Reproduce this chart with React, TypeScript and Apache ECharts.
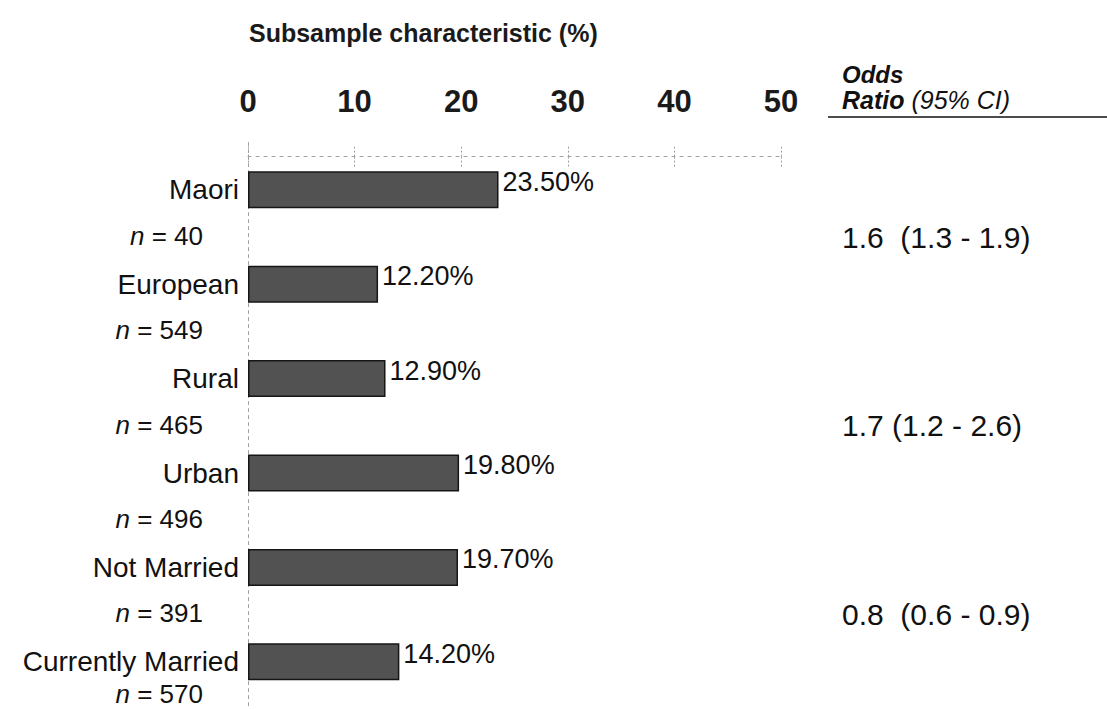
import React, { useEffect, useRef } from "react";
import * as echarts from "echarts";

const categories = ["Maori", "European", "Rural", "Urban", "Not Married", "Currently Married"];
const percentValues = [23.5, 12.2, 12.9, 19.8, 19.7, 14.2];
const sampleSizes = [40, 549, 465, 496, 391, 570];
const oddsRatios = ["1.6  (1.3 - 1.9)", "1.7 (1.2 - 2.6)", "0.8  (0.6 - 0.9)"];
const xTicks = [0, 10, 20, 30, 40, 50];

const FONT = "Arial, 'Liberation Sans', Helvetica, sans-serif";

export default function App() {
  const ref = useRef<HTMLDivElement>(null);

  useEffect(() => {
    if (!ref.current) return;
    const chart = echarts.init(ref.current, null, { renderer: "svg" });
    const option: any = {
      animation: false,
      backgroundColor: "#ffffff",
      title: {
        text: "Subsample characteristic (%)",
        left: 244,
        top: 15,
        textStyle: { fontFamily: FONT, fontSize: 25, fontWeight: "bold", color: "#1a1a1a" },
      },
      grid: { left: 248, right: 326, top: 142.6, height: 568.8 },
      xAxis: [
        {
          type: "value",
          position: "top",
          min: xTicks[0],
          max: xTicks[xTicks.length - 1],
          interval: 10,
          offset: -14,
          axisLine: { show: true, lineStyle: { color: "#a0a0a0", type: [3, 5], width: 1 } },
          axisTick: { show: true, length: 11, lineStyle: { color: "#a0a0a0", type: [2, 2] } },
          axisLabel: {
            margin: 40,
            fontFamily: "'Liberation Sans Narrow', 'Arial Narrow', Arial, sans-serif",
            fontSize: 31,
            fontWeight: "bold",
            color: "#1a1a1a",
          },
          splitLine: { show: false },
        },
        {
          type: "value",
          position: "top",
          min: xTicks[0],
          max: xTicks[xTicks.length - 1],
          interval: 10,
          offset: -14,
          axisLine: { show: false },
          axisTick: { show: true, inside: true, length: 12, lineStyle: { color: "#a0a0a0", type: [2, 2] } },
          axisLabel: { show: false },
          splitLine: { show: false },
        },
      ],
      yAxis: {
        type: "category",
        data: categories,
        inverse: true,
        axisLine: { show: true, lineStyle: { color: "#a0a0a0", type: [3, 4], width: 1 } },
        axisTick: { show: false },
        axisLabel: { margin: 9, fontFamily: FONT, fontSize: 28, color: "#111111" },
      },
      series: [
        {
          type: "bar",
          data: percentValues,
          barWidth: 37,
          itemStyle: { color: "#525252", borderColor: "#161616", borderWidth: 1.5 },
          label: {
            show: true,
            position: "right",
            distance: 4,
            offset: [0, -8],
            formatter: (p: any) => p.value.toFixed(2) + "%",
            fontFamily: FONT,
            fontSize: 27,
            color: "#111111",
          },
        },
      ],
    };
    chart.setOption(option);

    const yPix = (i: number) => chart.convertToPixel({ yAxisIndex: 0 }, categories[i]) as number;
    const graphics: any[] = [];
    sampleSizes.forEach((n, i) => {
      const last = i === sampleSizes.length - 1;
      const y = yPix(i) + (last ? 32 : 46);
      graphics.push({
        type: "text",
        x: 203,
        y,
        style: {
          text: "{i|n} = " + n,
          align: "right",
          verticalAlign: "middle",
          rich: { i: { fontStyle: "italic", fontFamily: FONT, fontSize: 26, fill: "#111" } },
          fontFamily: FONT,
          fontSize: 26,
          fill: "#111",
        },
      });
    });
    oddsRatios.forEach((t, k) => {
      const y = (yPix(2 * k) + yPix(2 * k + 1)) / 2;
      graphics.push({
        type: "text",
        x: 842,
        y,
        style: { text: t, fontFamily: FONT, fontSize: 30, fill: "#111", verticalAlign: "middle" },
      });
    });
    graphics.push(
      {
        type: "text",
        x: 842,
        y: 74,
        style: {
          text: "Odds",
          fontFamily: FONT,
          fontSize: 24,
          fontWeight: "bold",
          fontStyle: "italic",
          fill: "#111",
          verticalAlign: "middle",
        },
      },
      {
        type: "text",
        x: 842,
        y: 100,
        style: {
          text: "{b|Ratio} (95% CI)",
          fontFamily: FONT,
          fontSize: 25,
          fontStyle: "italic",
          fill: "#111",
          verticalAlign: "middle",
          rich: { b: { fontFamily: FONT, fontSize: 25, fontWeight: "bold", fontStyle: "italic", fill: "#111" } },
        },
      },
      {
        type: "line",
        shape: { x1: 828, y1: 117, x2: 1107, y2: 117 },
        style: { stroke: "#111", lineWidth: 1.5 },
      }
    );
    chart.setOption({ graphic: graphics });

    return () => chart.dispose();
  }, []);

  return <div ref={ref} style={{ position: "fixed", left: 0, top: 0, width: 1107, height: 709 }} />;
}
